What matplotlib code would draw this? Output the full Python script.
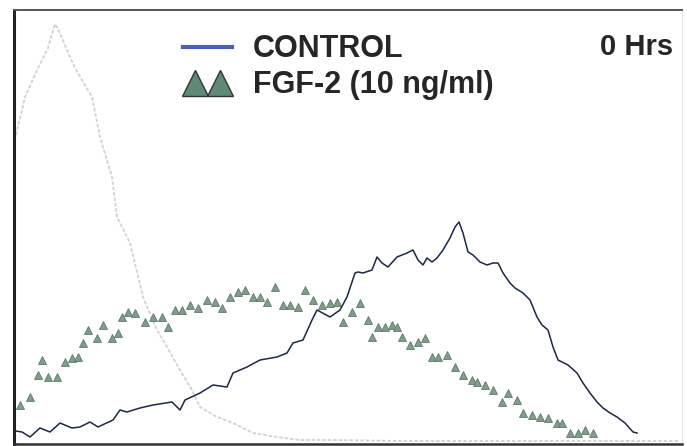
import matplotlib.pyplot as plt
from matplotlib.lines import Line2D
from matplotlib.legend_handler import HandlerLine2D

# values: x = channel position, y = count (height above baseline)
ctrl_x = [16, 22, 30, 40, 50, 60, 72, 80, 90, 98, 113, 120, 127, 140, 153, 172, 180, 185,
          200, 213, 227, 233, 247, 260, 277, 287, 293, 303, 312, 317, 330, 340, 347, 355,
          358, 363, 372, 377, 382, 388, 397, 407, 413, 418, 423, 427, 432, 437, 443, 450,
          455, 459, 463, 468, 473, 480, 487, 493, 498, 503, 510, 515, 523, 530, 537, 542,
          548, 553, 558, 568, 577, 583, 590, 597, 603, 610, 617, 625, 633, 637]
ctrl_y = [13, 12, 7, 16, 12, 21, 16, 17, 22, 17, 24, 34, 32, 36, 39, 42, 34, 44,
          51, 59, 57, 71, 77, 84, 87, 91, 101, 104, 124, 134, 127, 134, 147, 171,
          172, 171, 174, 187, 181, 177, 187, 191, 194, 184, 179, 186, 182, 186, 194, 206,
          217, 222, 211, 192, 189, 182, 179, 181, 181, 171, 161, 156, 151, 144, 127, 119,
          114, 97, 84, 79, 71, 61, 51, 42, 36, 31, 27, 21, 12, 11]

fgf_x = [20, 30, 38, 42, 48, 57, 65, 72, 78, 83, 88, 97, 103, 112, 118, 122, 128, 135,
         145, 153, 162, 168, 175, 182, 190, 198, 207, 215, 222, 230, 238, 245, 253, 260,
         267, 275, 283, 290, 298, 305, 313, 322, 330, 337, 343, 352, 360, 368, 372, 378,
         385, 392, 397, 402, 410, 418, 425, 432, 438, 447, 455, 463, 472, 477, 485, 493,
         502, 508, 517, 523, 532, 540, 548, 557, 562, 570, 578, 585, 593]
fgf_y = [39, 47, 69, 84, 67, 67, 82, 86, 87, 101, 114, 106, 119, 106, 111, 127, 132, 131,
         122, 127, 127, 117, 134, 134, 139, 136, 144, 142, 136, 147, 152, 154, 147, 147,
         142, 157, 139, 139, 137, 154, 144, 139, 141, 142, 122, 132, 141, 124, 107, 117,
         117, 119, 117, 107, 99, 102, 106, 87, 87, 89, 77, 69, 64, 62, 59, 54,
         42, 51, 44, 31, 29, 27, 26, 21, 21, 11, 11, 14, 11]

gray_x = [16, 25, 37, 48, 55, 60, 66, 75, 85, 92, 100, 112, 117, 130, 143, 157, 167,
          180, 192, 200, 217, 233, 253, 277, 300, 333, 400, 450, 500, 550, 600, 640, 680]
gray_y = [309, 347, 374, 396, 420, 411, 396, 376, 359, 347, 307, 267, 227, 201, 147, 114, 97,
          74, 54, 37, 27, 21, 11, 7, 4, 4, 3, 3, 3, 3, 3, 3, 3]

label_ctrl = "CONTROL"
label_fgf = "FGF-2 (10 ng/ml)"
time_label = "0 Hrs"

fig = plt.figure(figsize=(6.87, 4.46), dpi=100)
ax = fig.add_axes([14 / 687, 2 / 446, 668 / 687, 434 / 446])

ax.plot(gray_x, gray_y, color="#d2d2d2", lw=1.3, ls=(0, (2, 1)))
ax.plot(fgf_x, fgf_y, ls="none", marker="^", ms=5.5, mfc="#809c8d", mec="#62796d", mew=0.6)
ax.plot(ctrl_x, ctrl_y, color="#1d2644", lw=1.1)

ax.set_xlim(14, 682)
ax.set_ylim(0, 434)
ax.set_xticks([])
ax.set_yticks([])
ax.spines["left"].set_linewidth(2.2)
ax.spines["left"].set_color("#222222")
ax.spines["bottom"].set_linewidth(1.8)
ax.spines["bottom"].set_color("#333333")
ax.spines["top"].set_linewidth(1.4)
ax.spines["top"].set_color("#555555")
ax.spines["right"].set_color("#e6e6e6")
ax.spines["right"].set_linewidth(0.8)

font = dict(family="Liberation Sans", weight="bold", size=22)
h_ctrl = Line2D([], [], color="#4a62b0", lw=3)
h_fgf = Line2D([], [], ls="none", marker="^", ms=19, mfc="#5f8a76", mec="#333333", mew=1.0)
leg = ax.legend([h_ctrl, h_fgf], [label_ctrl, label_fgf], loc="upper left",
                bbox_to_anchor=(0.253, 0.944), frameon=False, numpoints=2,
                handler_map={h_ctrl: HandlerLine2D(numpoints=1),
                             h_fgf: HandlerLine2D(marker_pad=0.39)},
                handlelength=1.6, handletextpad=0.69, labelspacing=0.2,
                borderaxespad=0, borderpad=0, prop=font)
for t in leg.get_texts():
    t.set_color("#262626")

ax.text(0.877, 0.897, time_label, transform=ax.transAxes, color="#262626",
        ha="left", va="baseline", family="Liberation Sans", weight="bold", size=21)

fig.savefig("out.png", dpi=100)
